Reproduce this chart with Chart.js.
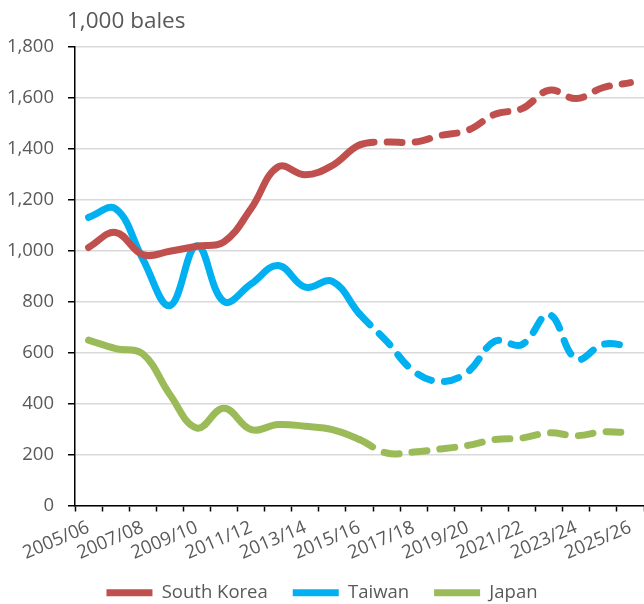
<!DOCTYPE html>
<html>
<head>
<meta charset="utf-8">
<script src="https://cdn.jsdelivr.net/npm/chart.js@4/dist/chart.umd.min.js"></script>
<style>
  html, body { margin: 0; padding: 0; background: #fff; overflow: hidden; }
  #wrap { width: 644px; height: 604px; }
</style>
</head>
<body>
<div id="wrap"><canvas id="chart" width="644" height="604"></canvas></div>
<script>
// marketing years on the x axis
var seasons = ['2005/06','2006/07','2007/08','2008/09','2009/10','2010/11','2011/12',
	'2012/13','2013/14','2014/15','2015/16','2016/17','2017/18','2018/19','2019/20',
	'2020/21','2021/22','2022/23','2023/24','2024/25','2025/26'];

// 1,000 bales
var southKorea = [1013, 1072, 985, 998, 1018, 1035, 1166, 1330, 1298, 1335, 1415,
	1427, 1426, 1453, 1473, 1536, 1558, 1630, 1598, 1641, 1660];
var taiwan     = [1131, 1165, 968, 785, 1020, 800, 870, 942, 857, 880, 752,
	645, 528, 486, 525, 645, 632, 750, 575, 633, 625];
var japan      = [649, 616, 595, 436, 304, 382, 298, 318, 311, 298, 259,
	206, 210, 222, 236, 259, 265, 285, 274, 289, 285];

// last year of actual data, projections after that are dashed
var lastActual = 10;
var unitLabel = '1,000 bales';

var grey = '#595959';
var font = "'Open Sans'";

function makeSet(label, data, color) {
	return {
		label: label,
		data: data,
		borderColor: color,
		backgroundColor: color,
		borderWidth: 7,
		borderCapStyle: 'round',
		borderJoinStyle: 'round',
		pointRadius: 0,
		pointHoverRadius: 0,
		pointStyle: 'line',
		tension: 0.4,
		fill: false,
		segment: {
			borderDash: function (ctx) { return ctx.p0DataIndex >= lastActual ? [15, 13] : undefined; }
		}
	};
}

// unit text above the y axis, and let the x labels run below the axis box
var unitPlugin = {
	id: 'unitLabel',
	afterLayout: function (chart) {
		chart.scales.x.bottom = chart.height;
	},
	afterDraw: function (chart) {
		var ctx = chart.ctx;
		ctx.save();
		ctx.font = '22.5px ' + font;
		ctx.fillStyle = grey;
		ctx.textBaseline = 'alphabetic';
		ctx.textAlign = 'left';
		ctx.fillText(unitLabel, chart.chartArea.left - 8, 28);
		ctx.restore();
	}
};

var ctx = document.getElementById('chart').getContext('2d');
var chart = new Chart(ctx, {
	type: 'line',
	data: {
		labels: seasons,
		datasets: [
			makeSet('South Korea', southKorea, '#C0504D'),
			makeSet('Taiwan', taiwan, '#00B0F0'),
			makeSet('Japan', japan, '#9BBB59')
		]
	},
	options: {
		responsive: false,
		animation: false,
		layout: { padding: { top: 47, left: 0, right: 0, bottom: -8 } },
		plugins: {
			tooltip: { enabled: false },
			legend: {
				position: 'bottom',
				labels: {
					usePointStyle: true,
					pointStyleWidth: 46,
					boxHeight: 7,
					padding: 25,
					color: grey,
					font: { family: font, size: 18.5 }
				}
			}
		},
		scales: {
			x: {
				offset: true,
				afterFit: function (scale) {
					scale.paddingLeft = 0;
					scale.paddingRight = 0;
					scale.height = 53;
				},
				grid: {
					offset: true,
					drawOnChartArea: false,
					drawTicks: true,
					tickLength: 6,
					tickColor: '#000',
					tickWidth: 1.5
				},
				border: { color: '#000', width: 1.5 },
				ticks: {
					autoSkip: false,
					minRotation: 23,
					maxRotation: 23,
					padding: 5,
					color: grey,
					font: { family: font, size: 18.5 },
					callback: function (val, index) {
						return index % 2 === 0 ? this.getLabelForValue(val) : '';
					}
				}
			},
			y: {
				min: 0,
				max: 1800,
				afterFit: function (scale) {
					scale.width = 75;
				},
				ticks: {
					stepSize: 200,
					padding: 14,
					color: grey,
					font: { family: font, size: 18.5 }
				},
				grid: {
					color: '#d9d9d9',
					lineWidth: 1.5,
					tickLength: 7,
					tickColor: '#000',
					tickWidth: 1.5
				},
				border: { color: '#000', width: 1.5 }
			}
		}
	},
	plugins: [unitPlugin]
});
</script>
</body>
</html>
